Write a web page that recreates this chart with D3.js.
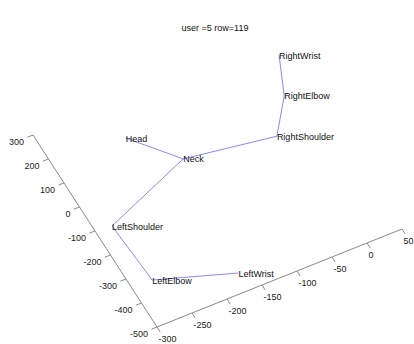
<!DOCTYPE html>
<html>
<head>
<meta charset="utf-8">
<script src="https://cdn.jsdelivr.net/npm/d3@7"></script>
<style>
  html, body { margin: 0; padding: 0; background: #fff; }
  svg { display: block; font-family: "Liberation Sans", Arial, sans-serif; }
</style>
</head>
<body>
<svg id="chart" width="414" height="344"></svg>
<script>
// Skeleton joints (horizontal-axis value, vertical-axis value)
const joints = ["Head", "Neck", "RightShoulder", "RightElbow", "RightWrist", "LeftShoulder", "LeftElbow", "LeftWrist"];
const jointX = [-197, -147, -24, 14, 38, -277, -271, -168];
const jointY = [167, 22, -27, 97, 239, -106, -338, -429];

// Bones connecting joints
const boneFrom = ["Head", "Neck", "RightShoulder", "RightElbow", "Neck", "LeftShoulder", "LeftElbow"];
const boneTo   = ["Neck", "RightShoulder", "RightElbow", "RightWrist", "LeftShoulder", "LeftElbow", "LeftWrist"];

// Axis ticks
const xTicks = [-300, -250, -200, -150, -100, -50, 0, 50];
const yTicks = [300, 200, 100, 0, -100, -200, -300, -400, -500];

const title = "user =5 row=119";

const svg = d3.select("#chart");
const origin = [157, 327];

// Oblique projection: each data axis contributes to both screen coordinates
const xDom = [-300, 50], yDom = [-500, 300];
const xToPx = d3.scaleLinear().domain(xDom).range([0, 245]);
const xToPy = d3.scaleLinear().domain(xDom).range([0, -98]);
const yToPx = d3.scaleLinear().domain(yDom).range([0, -124]);
const yToPy = d3.scaleLinear().domain(yDom).range([0, -192]);

function project(x, y) {
  return [origin[0] + xToPx(x) + yToPx(y), origin[1] + xToPy(x) + yToPy(y)];
}

const axisColor = "#8a8a8a";
const labelColor = "#222";

// Horizontal (receding) axis
const xa = svg.append("g");
const x0 = project(xDom[0], yDom[0]), x1 = project(xDom[1], yDom[0]);
xa.append("line").attr("x1", x0[0]).attr("y1", x0[1]).attr("x2", x1[0]).attr("y2", x1[1])
  .attr("stroke", axisColor).attr("stroke-width", 1);
xTicks.forEach(t => {
  const p = project(t, yDom[0]);
  xa.append("line").attr("x1", p[0]).attr("y1", p[1]).attr("x2", p[0] + 3.2).attr("y2", p[1] + 5)
    .attr("stroke", axisColor).attr("stroke-width", 1);
  xa.append("text").attr("x", p[0] + 1.5).attr("y", p[1] + 12)
    .attr("dominant-baseline", "central").attr("text-anchor", "start")
    .attr("font-size", 9).attr("fill", labelColor).text(t);
});

// Vertical (slanted) axis
const ya = svg.append("g");
const y1 = project(xDom[0], yDom[1]);
ya.append("line").attr("x1", x0[0]).attr("y1", x0[1]).attr("x2", y1[0]).attr("y2", y1[1])
  .attr("stroke", axisColor).attr("stroke-width", 1);
yTicks.forEach(t => {
  const p = project(xDom[0], t);
  ya.append("line").attr("x1", p[0]).attr("y1", p[1]).attr("x2", p[0] - 5.6).attr("y2", p[1] + 2.2)
    .attr("stroke", axisColor).attr("stroke-width", 1);
  ya.append("text").attr("x", p[0] - 9).attr("y", p[1] + 7)
    .attr("dominant-baseline", "central").attr("text-anchor", "end")
    .attr("font-size", 9).attr("fill", labelColor).text(t);
});

// Bones
const idx = name => joints.indexOf(name);
svg.append("g").selectAll("line").data(d3.range(boneFrom.length)).join("line")
  .attr("x1", i => project(jointX[idx(boneFrom[i])], jointY[idx(boneFrom[i])])[0])
  .attr("y1", i => project(jointX[idx(boneFrom[i])], jointY[idx(boneFrom[i])])[1])
  .attr("x2", i => project(jointX[idx(boneTo[i])], jointY[idx(boneTo[i])])[0])
  .attr("y2", i => project(jointX[idx(boneTo[i])], jointY[idx(boneTo[i])])[1])
  .attr("stroke", "#7c7cff").attr("stroke-width", 0.9);

// Joint labels
svg.append("g").selectAll("text").data(joints).join("text")
  .attr("x", (d, i) => project(jointX[i], jointY[i])[0])
  .attr("y", (d, i) => project(jointX[i], jointY[i])[1] + 0.5)
  .attr("dominant-baseline", "central")
  .attr("font-size", 9).attr("fill", "#111").text(d => d);

// Title
svg.append("text").attr("x", 215).attr("y", 28).attr("text-anchor", "middle")
  .attr("dominant-baseline", "central").attr("font-size", 9).attr("fill", "#111").text(title);
</script>
</body>
</html>
